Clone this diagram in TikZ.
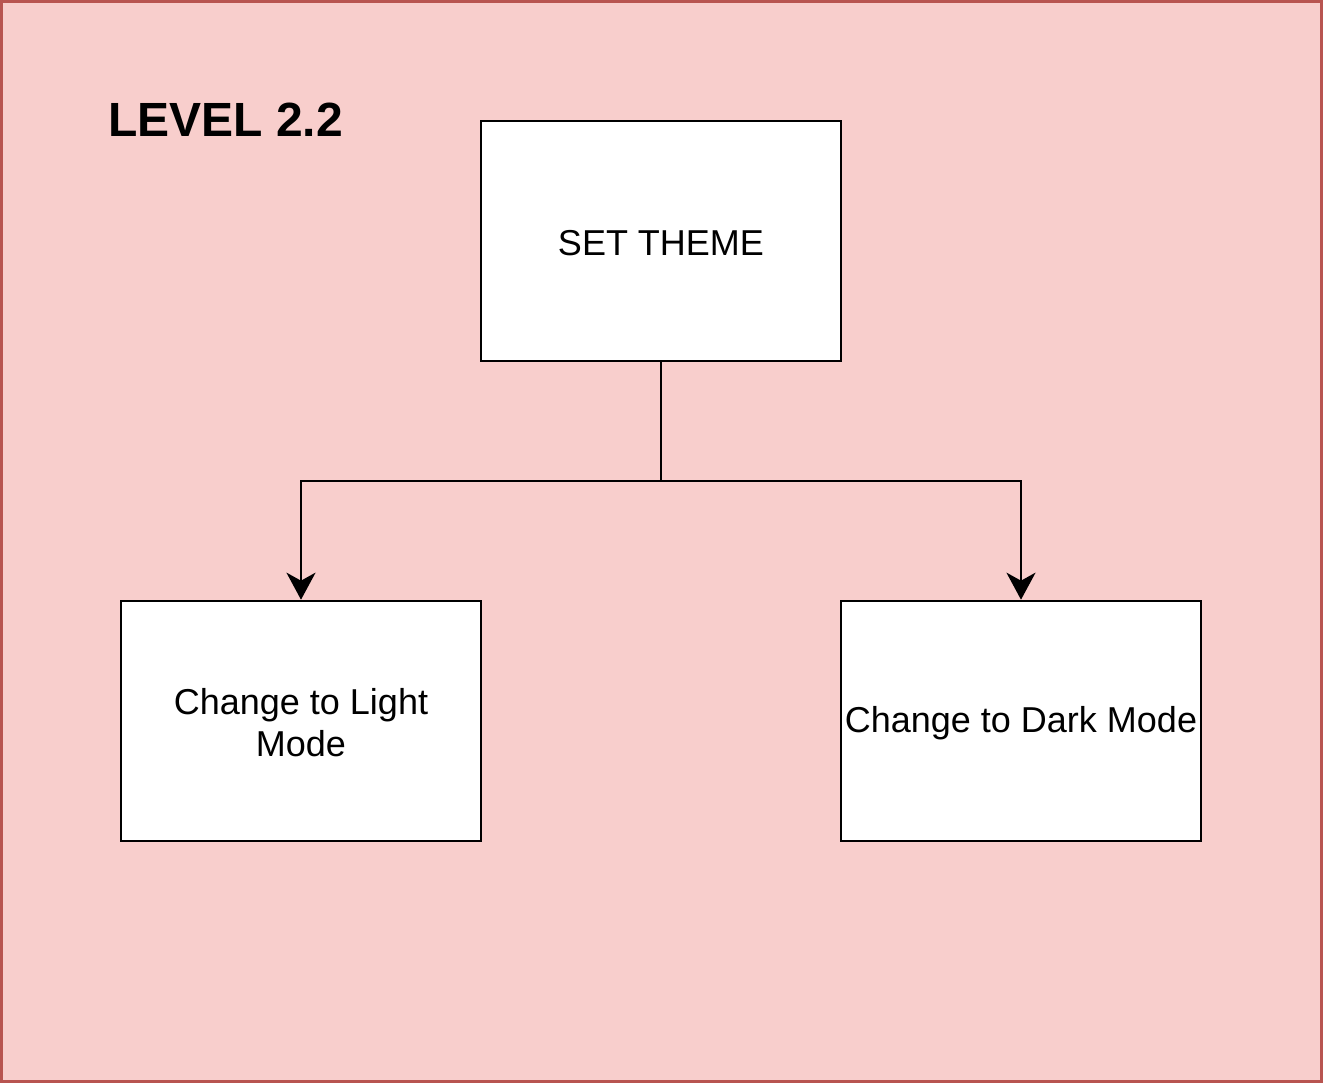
\documentclass[tikz,border=0pt]{standalone}
\usepackage{fontspec}
\setmainfont{Liberation Sans}
\usetikzlibrary{arrows.meta}
\definecolor{bgfill}{HTML}{F8CECC}
\definecolor{bgline}{HTML}{B85450}
\begin{document}
\begin{tikzpicture}[x=1pt,y=-1pt,
  box/.style={draw=black,fill=white,line width=2.6pt,minimum width=360pt,minimum height=240pt,inner sep=0pt,font=\fontsize{36}{42}\selectfont,align=center},
  conn/.style={line width=2.6pt,draw=black},
  arr/.style={conn,-{Stealth[length=27pt,width=29pt,inset=8pt]}}]
\useasboundingbox (0,0) rectangle (1323,1083);
\node[draw=bgline,fill=bgfill,line width=3pt,minimum width=1320pt,minimum height=1080pt,inner sep=0pt] (bg) at (661.5,541.5) {};
\node[anchor=base west,inner sep=0pt,font=\fontsize{48}{56}\selectfont\bfseries] (title) at (108,137) {LEVEL 2.2};
\node[box] (set) at (661,241) {};
\node[font=\fontsize{36}{42}\selectfont] (settxt) at (661,243) {SET THEME};
\node[box] (light) at (301,721) {};
\node[font=\fontsize{36}{42}\selectfont,align=center] (lighttxt) at (301,723) {Change to Light\\Mode};
\node[box] (dark) at (1021,721) {};
\node[font=\fontsize{36}{42}\selectfont] (darktxt) at (1021,723) {Change to Dark Mode};
\coordinate (j) at (661,481);
\draw[conn] (set.south) -- (j);
\draw[arr] (j) -| (light.north);
\draw[arr] (j) -| (dark.north);
\end{tikzpicture}
\end{document}
